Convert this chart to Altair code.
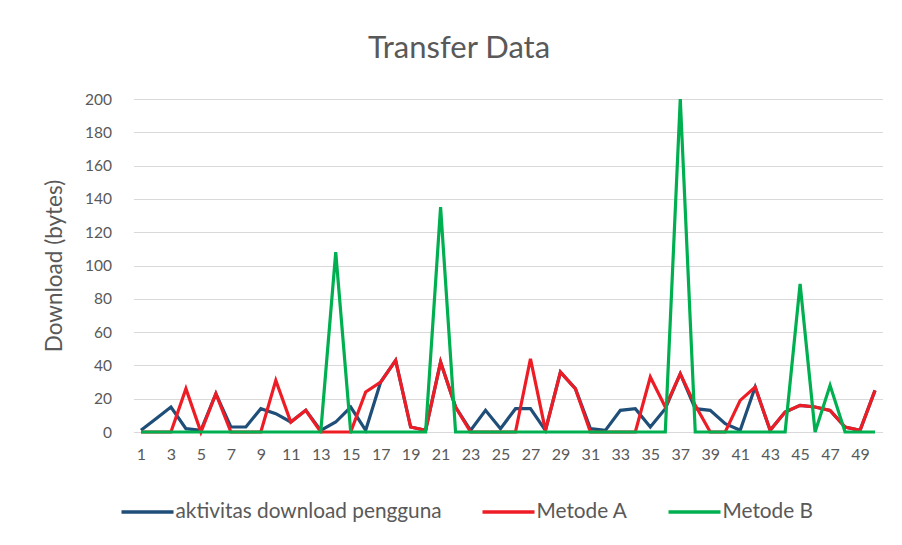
import altair as alt
import pandas as pd

x_vals = list(range(1, 51))
aktivitas = [1, 8, 15, 2, 1, 23, 3, 3, 14, 11, 6, 13, 1, 6, 15, 1, 30, 43, 3, 1,
             42, 15, 1, 13, 2, 14, 14, 1, 36, 26, 2, 1, 13, 14, 3, 14, 35, 14, 13, 5,
             1, 27, 1, 12, 16, 15, 13, 3, 1, 25]
metode_a = [0, 0, 0, 26, 0, 23, 0, 0, 0, 31, 6, 13, 0, 0, 0, 24, 30, 43, 3, 1,
            42, 15, 0, 0, 0, 0, 44, 1, 36, 26, 0, 0, 0, 0, 33, 15, 35, 16, 0, 0,
            19, 27, 1, 12, 16, 15, 13, 3, 1, 25]
metode_b = [0, 0, 0, 0, 0, 0, 0, 0, 0, 0, 0, 0, 0, 108, 0, 0, 0, 0, 0, 0,
            135, 0, 0, 0, 0, 0, 0, 0, 0, 0, 0, 0, 0, 0, 0, 0, 200, 0, 0, 0,
            0, 0, 0, 0, 89, 0, 28, 0, 0, 0]
series_names = ["aktivitas download pengguna", "Metode A", "Metode B"]
series_colors = ["#1F4E79", "#EE1C25", "#00B050"]
x_tick_labels = list(range(1, 50, 2))
y_ticks = list(range(0, 201, 20))

rows = []
for name, vals in zip(series_names, [aktivitas, metode_a, metode_b]):
    for xv, yv in zip(x_vals, vals):
        rows.append({"x": xv, "value": yv, "series": name})
df = pd.DataFrame(rows)

FONT = "Lato"
GRAY = "#595959"

color = alt.Color(
    "series:N",
    scale=alt.Scale(domain=series_names, range=series_colors),
    legend=alt.Legend(
        title=None,
        orient="none",
        direction="horizontal",
        legendX=-14,
        legendY=385,
        symbolType="stroke",
        symbolStrokeWidth=3.5,
        symbolSize=2704,
        labelFontSize=20.8,
        labelColor=GRAY,
        labelFont=FONT,
        columnPadding=33,
        labelOffset=0,
        labelLimit=400,
    ),
)

base = alt.Chart(df).encode(
    x=alt.X(
        "x:Q",
        scale=alt.Scale(domain=[0.5, 50.5], nice=False, zero=False),
        axis=alt.Axis(
            values=x_tick_labels,
            title=None,
            grid=False,
            ticks=False,
            domain=True,
            domainColor="#D9D9D9",
            labelFontSize=16,
            labelColor=GRAY,
            labelFont=FONT,
            labelPadding=14,
        ),
    ),
    y=alt.Y(
        "value:Q",
        scale=alt.Scale(domain=[0, 200], nice=False),
        axis=alt.Axis(
            values=y_ticks,
            title="Download (bytes)",
            titleFontSize=22.5,
            titleFontWeight="normal",
            titleColor=GRAY,
            titleFont=FONT,
            titlePadding=18,
            grid=True,
            gridColor="#D9D9D9",
            gridWidth=1,
            ticks=False,
            domain=False,
            labelFontSize=15.5,
            labelColor=GRAY,
            labelFont=FONT,
            labelPadding=22,
        ),
    ),
    color=color,
)

layers = [
    base.transform_filter(alt.datum.series == name).mark_line(strokeWidth=3.2)
    for name in series_names
]

chart = (
    alt.layer(*layers)
    .properties(
        width=749,
        height=333,
        title=alt.TitleParams(
            "Transfer Data",
            fontSize=31,
            fontWeight="normal",
            color=GRAY,
            font=FONT,
            dx=-49,
            offset=27,
        ),
        autosize=alt.AutoSizeParams(type="none"),
        padding={"left": 125.5, "top": 91, "right": 11.5, "bottom": 105},
    )
    .configure_view(stroke=None)
)

chart.save("out.html", embed_options={"renderer": "svg", "actions": False})
